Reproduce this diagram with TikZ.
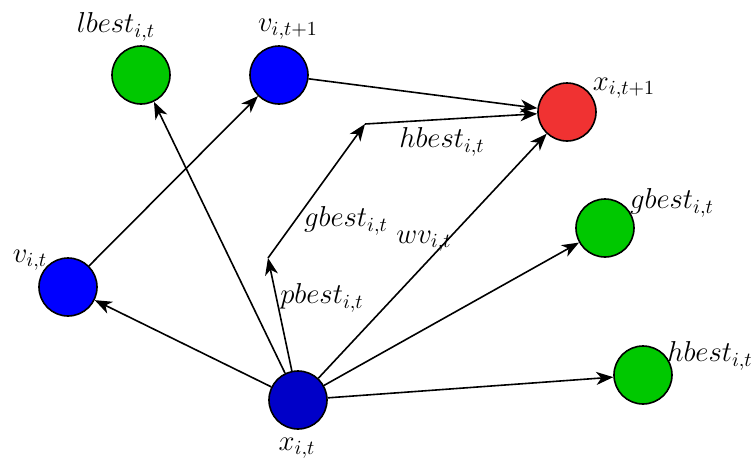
\documentclass[tikz,border=0pt]{standalone}
\usetikzlibrary{arrows.meta}
\definecolor{cgreen}{RGB}{0,200,0}
\definecolor{cblue}{RGB}{0,0,255}
\definecolor{cdblue}{RGB}{0,0,200}
\definecolor{cred}{RGB}{240,50,50}
\begin{document}
\begin{tikzpicture}[x=0.5pt,y=-0.5pt,
  ball/.style={circle,draw=black,line width=0.8pt,minimum size=29pt,inner sep=0pt},
  lab/.style={font=\Large,inner sep=0pt},
  conn/.style={line width=0.8pt,-{Stealth[length=8.5pt,width=6.5pt,inset=2.5pt]}}]
\useasboundingbox (0,0) rectangle (752,461);
\node[ball,fill=cgreen] (lbest) at (141,75) {};
\node[ball,fill=cblue] (vnext) at (279,75) {};
\node[ball,fill=cred] (xnext) at (567,112) {};
\node[ball,fill=cgreen] (gbest) at (605,228) {};
\node[ball,fill=cblue] (v) at (68,287) {};
\node[ball,fill=cdblue] (x) at (298,400) {};
\node[ball,fill=cgreen] (hbest) at (643,375) {};
\coordinate (p1) at (268,258);
\coordinate (p2) at (365,124);

\node[lab] (llbest) at (116,27) {$lbest_{i,t}$};
\node[lab] (lvnext) at (288,29) {$v_{i,t+1}$};
\node[lab] (lxnext) at (624,88) {$x_{i,t+1}$};
\node[lab] (lgbest) at (672,203) {$gbest_{i,t}$};
\node[lab] (lv) at (30,260) {$v_{i,t}$};
\node[lab] (lx) at (297,448) {$x_{i,t}$};
\node[lab] (lhbest) at (710,356) {$hbest_{i,t}$};
\node[lab] (mh) at (442,142) {$hbest_{i,t}$};
\node[lab] (mg) at (346,221) {$gbest_{i,t}$};
\node[lab] (mw) at (424,241) {$wv_{i,t}$};
\node[lab] (mp) at (322,298) {$pbest_{i,t}$};

\draw[conn] (x) -- (v);
\draw[conn] (x) -- (lbest);
\draw[conn] (v) -- (vnext);
\draw[conn] (vnext) -- (xnext);
\draw[conn] (x) -- (p1);
\draw[conn] (p1) -- (p2);
\draw[conn] (p2) -- (xnext);
\draw[conn] (x) -- (xnext);
\draw[conn] (x) -- (gbest);
\draw[conn] (x) -- (hbest);
\end{tikzpicture}
\end{document}
